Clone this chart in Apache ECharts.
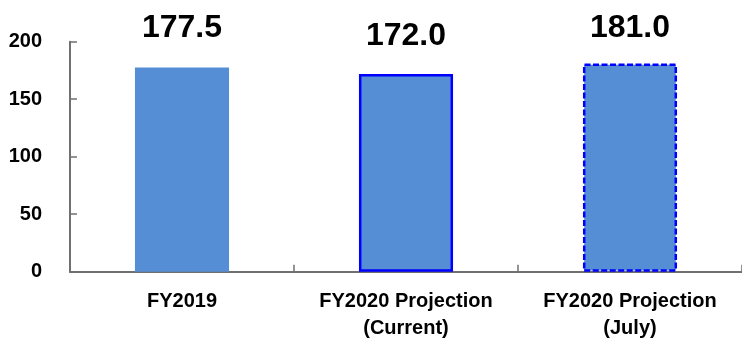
<!DOCTYPE html>
<html>
<head>
<meta charset="utf-8">
<script src="https://cdn.jsdelivr.net/npm/echarts@6/dist/echarts.min.js"></script>
<style>
  html, body { margin: 0; padding: 0; background: #ffffff; }
  #chart { width: 742px; height: 342px; }
</style>
</head>
<body>
<div id="chart"></div>
<script>
// Categories and values
const categories = ['FY2019', 'FY2020 Projection\n(Current)', 'FY2020 Projection\n(July)'];
const values = [177.5, 172.0, 181.0];
const yTicks = [0, 50, 100, 150, 200];

const FONT = '"Liberation Sans", Arial, sans-serif';
const BAR_FILL = '#558ED5';
const EDGE_BLUE = '#0000FF';
const AXIS_GREY = '#707070';

// Per-bar styling: outline (plain, solid blue, dashed blue) and value-label gap
const barStyles = [
  { outline: { borderWidth: 0 }, labelGap: 23 },
  { outline: { borderWidth: 2.5, borderColor: EDGE_BLUE, borderType: 'solid' }, labelGap: 22 },
  { outline: { borderWidth: 2.5, borderColor: EDGE_BLUE, borderType: [6, 2.5] }, labelGap: 19 }
];

const barData = values.map((v, i) => ({
  value: v,
  itemStyle: Object.assign({ color: BAR_FILL }, barStyles[i].outline),
  label: { distance: barStyles[i].labelGap }
}));

const chart = echarts.init(document.getElementById('chart'), null, { renderer: 'canvas' });
chart.setOption({
  animation: false,
  grid: { left: 70, right: -2, top: 41.7, bottom: 70.3, containLabel: false },
  xAxis: {
    type: 'category',
    data: categories,
    axisLine: { show: true, lineStyle: { color: AXIS_GREY, width: 2 } },
    axisTick: { show: true, inside: true, length: 7, alignWithLabel: false,
                lineStyle: { color: AXIS_GREY, width: 1.5 } },
    axisLabel: {
      color: '#000', fontFamily: FONT, fontWeight: 'bold', fontSize: 20,
      lineHeight: 27, margin: 16, interval: 0
    },
    splitLine: { show: false }
  },
  yAxis: {
    type: 'value',
    min: yTicks[0],
    max: yTicks[yTicks.length - 1],
    interval: yTicks[1] - yTicks[0],
    axisLine: { show: true, lineStyle: { color: AXIS_GREY, width: 2 } },
    axisTick: { show: true, inside: true, length: 7, lineStyle: { color: AXIS_GREY, width: 1.5 } },
    axisLabel: {
      color: '#000', fontFamily: FONT, fontWeight: 'bold', fontSize: 20, margin: 28
    },
    splitLine: { show: false }
  },
  series: [{
    type: 'bar',
    data: barData,
    barWidth: '42%',
    label: {
      show: true,
      position: 'top',
      distance: 23,
      formatter: p => p.value.toFixed(1),
      color: '#000',
      fontFamily: FONT,
      fontWeight: 'bold',
      fontSize: 32,
      lineHeight: 32
    }
  }]
});
</script>
</body>
</html>
